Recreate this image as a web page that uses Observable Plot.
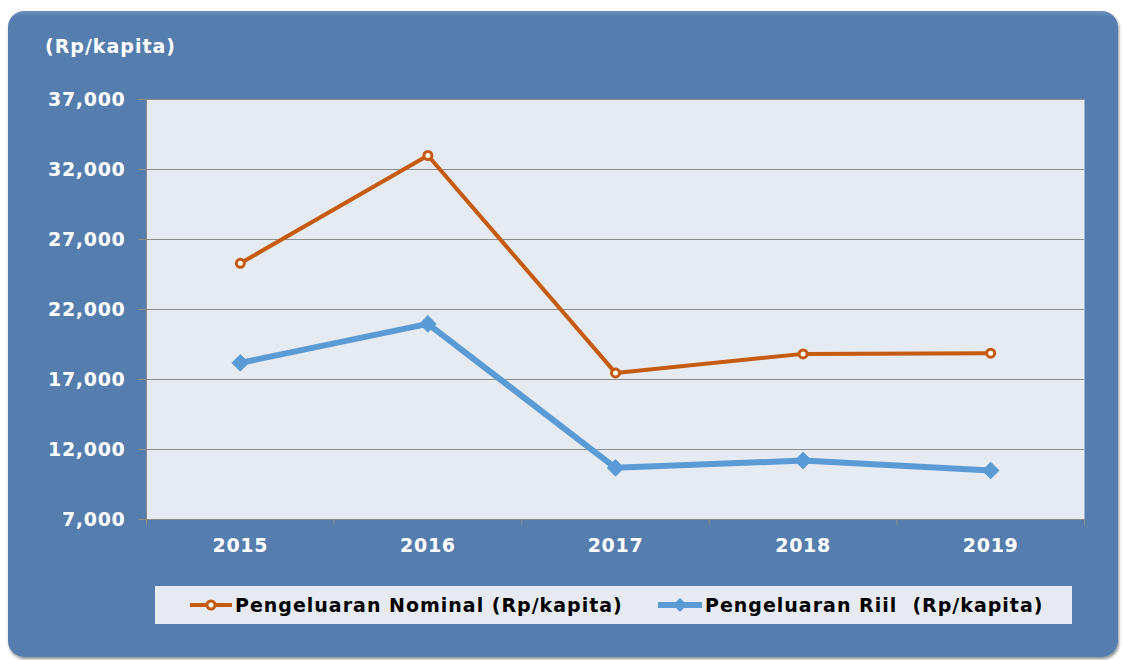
<!DOCTYPE html>
<html>
<head>
<meta charset="utf-8">
<script src="https://cdn.jsdelivr.net/npm/d3@7"></script>
<script src="https://cdn.jsdelivr.net/npm/@observablehq/plot@0.6"></script>
<style>
  html, body { margin: 0; padding: 0; background: #ffffff; width: 1122px; height: 660px; overflow: hidden; }
  body { position: relative; font-family: "DejaVu Sans", Verdana, sans-serif; }
  #panel { position: absolute; left: 8px; top: 11px; width: 1110px; height: 646px; border-radius: 16px;
           background: linear-gradient(#6a90bd 0px, #557eae 6px, #557eae 100%);
           box-shadow: 1px 2px 3px rgba(0,0,0,0.45); }
  #title { position: absolute; left: 45px; top: 37px; color: #fff; font-weight: bold; font-size: 19px; line-height: 19px; letter-spacing: 1px; }
  #chart { position: absolute; left: 0; top: 0; }
  #legend { position: absolute; left: 155px; top: 586px; width: 917px; height: 38px; background: #e7ebf1;
            font-weight: bold; font-size: 19px; color: #000; letter-spacing: 1px; }
  .item { display: flex; align-items: center; position: absolute; top: 0; height: 38px; }
  .item svg { margin-right: 2px; }
</style>
</head>
<body>
<div id="panel"></div>
<div id="title">(Rp/kapita)</div>
<div id="chart"></div>
<div id="legend"></div>
<script>
const years = [2015, 2016, 2017, 2018, 2019];
const nominal = [25300, 33000, 17470, 18830, 18880];
const riil = [18190, 20970, 10690, 11210, 10500];
const yTicks = [7000, 12000, 17000, 22000, 27000, 32000, 37000];
const seriesNames = ["Pengeluaran Nominal (Rp/kapita)", "Pengeluaran Riil  (Rp/kapita)"];
const colors = ["#c55a11", "#5b9bd5"];

const nomData = years.map((y, i) => ({year: y, value: nominal[i]}));
const riilData = years.map((y, i) => ({year: y, value: riil[i]}));
const bounds = [years[0] - 0.5, ...years.map(y => y + 0.5)];

const chart = Plot.plot({
  width: 1122,
  height: 560,
  marginLeft: 146,
  marginRight: 38,
  marginTop: 99,
  marginBottom: 41,
  style: {background: "transparent", fontFamily: "'DejaVu Sans', Verdana, sans-serif"},
  x: {domain: [years[0] - 0.5, years[years.length - 1] + 0.5]},
  y: {domain: [yTicks[0], yTicks[yTicks.length - 1]]},
  marks: [
    Plot.frame({fill: "#e6eaf1", stroke: null}),
    Plot.gridY(yTicks, {stroke: "#8c8c8c", strokeOpacity: 1, strokeWidth: 1}),
    Plot.ruleX([bounds[0]], {stroke: "#8c8c8c", strokeWidth: 1}),
    Plot.ruleY([yTicks[0]], {stroke: "#8c8c8c", strokeWidth: 1}),
    Plot.axisY(yTicks, {tickSize: 8, tickPadding: 13, stroke: "#8c8c8c", fill: "#fff",
      fontSize: 19, fontWeight: "bold", tickFormat: d3.format(","), label: null}),
    Plot.axisX(bounds, {tickSize: 6, stroke: "#8c8c8c", tickFormat: () => "", label: null}),
    Plot.axisX(years, {tickSize: 0, tickPadding: 19, fill: "#fff", fontSize: 19, fontWeight: "bold",
      tickFormat: d => String(d), label: null}),
    Plot.line(nomData, {x: "year", y: "value", stroke: colors[0], strokeWidth: 4}),
    Plot.line(riilData, {x: "year", y: "value", stroke: colors[1], strokeWidth: 6}),
    Plot.dot(nomData, {x: "year", y: "value", r: 4, stroke: colors[0], strokeWidth: 3, fill: "#fff"}),
    Plot.dot(riilData, {x: "year", y: "value", r: 7.5, symbol: "diamond2", fill: colors[1], stroke: colors[1], strokeWidth: 1})
  ]
});
document.getElementById("chart").appendChild(chart);
chart.querySelectorAll("g[aria-label='y-axis tick label'], g[aria-label='x-axis tick label']").forEach(g => g.setAttribute("letter-spacing", "0.7px"));

// legend
const legend = document.getElementById("legend");
const swatchNom = `<svg width="44" height="14"><line x1="1" y1="7" x2="43" y2="7" stroke="${colors[0]}" stroke-width="4"/><circle cx="22" cy="7" r="4" fill="#fff" stroke="${colors[0]}" stroke-width="3"/></svg>`;
const swatchRiil = `<svg width="46" height="16"><line x1="1" y1="8" x2="45" y2="8" stroke="${colors[1]}" stroke-width="6"/><path d="M23,1 L30,8 L23,15 L16,8 Z" fill="${colors[1]}"/></svg>`;
const lefts = [34, 502];
[swatchNom, swatchRiil].forEach((sw, i) => {
  const d = document.createElement("div");
  d.className = "item";
  d.style.left = lefts[i] + "px";
  d.innerHTML = sw + `<span style="white-space:pre">${seriesNames[i]}</span>`;
  legend.appendChild(d);
});
</script>
</body>
</html>
